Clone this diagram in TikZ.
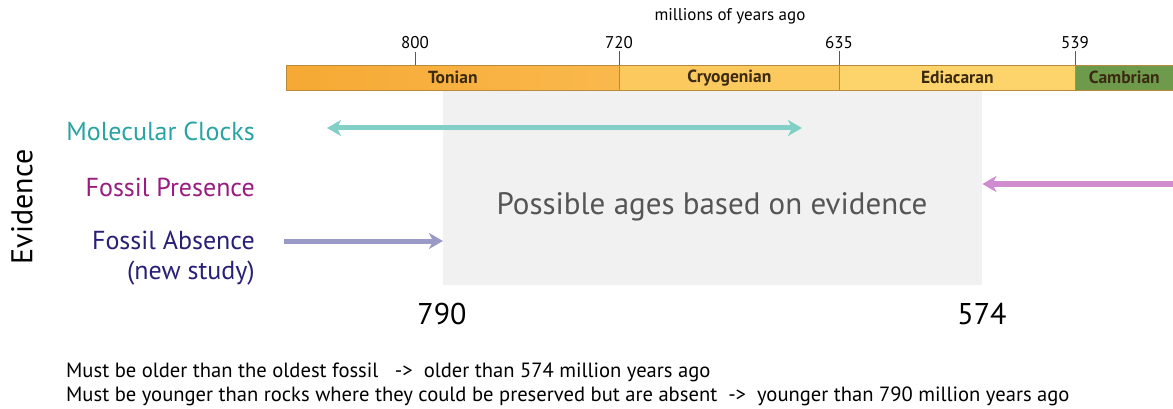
\documentclass[tikz,border=0pt]{standalone}
\usepackage{fontspec}
\setmainfont{PT Sans}
\usetikzlibrary{arrows.meta}
\definecolor{tonA}{HTML}{F6A934}
\definecolor{tonB}{HTML}{FAB84C}
\definecolor{cryo}{HTML}{FCC95E}
\definecolor{edia}{HTML}{FDD46B}
\definecolor{camb}{HTML}{6E9A4B}
\definecolor{barline}{HTML}{B98A3A}
\definecolor{bartext}{HTML}{3A2A12}
\definecolor{mcText}{HTML}{2AA3A3}
\definecolor{mcArrow}{HTML}{82CFC8}
\definecolor{fpText}{HTML}{9A1C80}
\definecolor{fpArrow}{HTML}{D08CCF}
\definecolor{faText}{HTML}{2A1F76}
\definecolor{faArrow}{HTML}{9A9AC6}
\definecolor{boxfill}{HTML}{F1F1F1}
\definecolor{boxtext}{HTML}{555555}
\tikzset{
  period/.style={draw=barline, line width=0.6pt, minimum height=25pt, inner sep=0pt, font=\bfseries\fontsize{17.5}{20}\selectfont, text=bartext},
  ticklab/.style={font=\fontsize{17}{20}\selectfont, inner sep=0pt},
  tickline/.style={draw=gray!70!black, line width=0.6pt},
  evlab/.style={font=\fontsize{26}{30}\selectfont, anchor=east, inner sep=0pt, align=right},
  evarrow/.style={line width=5pt, -{Stealth[length=14pt,width=16pt,inset=4pt]}},
  evdarrow/.style={line width=5pt, {Stealth[length=14pt,width=16pt,inset=4pt]}-{Stealth[length=14pt,width=16pt,inset=4pt]}},
  agelab/.style={font=\fontsize{30}{34}\selectfont, inner sep=0pt},
  note/.style={font=\fontsize{20.6}{24}\selectfont, anchor=west, inner sep=0pt}
}
\begin{document}
\begin{tikzpicture}[x=1pt,y=-1pt]
\useasboundingbox (0,0) rectangle (1173,409);
\fill[white] (0,0) rectangle (1173,409);
% grey box
\node[fill=boxfill, minimum width=539pt, minimum height=195pt, inner sep=0pt, anchor=north west] (box) at (443,90) {};
\node[font=\fontsize{31}{36}\selectfont, text=boxtext] (boxlab) at (712,207) {Possible ages based on evidence};
% timeline bar
\node[ticklab] (unit) at (730,16) {millions of years ago};
\node[period, minimum width=333pt, anchor=north west, left color=tonA, right color=tonB] (ton) at (286,65) {Tonian};
\node[period, minimum width=220pt, anchor=north west, fill=cryo] (cry) at (619,65) {Cryogenian};
\node[period, minimum width=236pt, anchor=north west, fill=edia] (edi) at (839,65) {Ediacaran};
\node[period, minimum width=98pt, anchor=north west, fill=camb] (cam) at (1075,65) {Cambrian};
\node[ticklab] (t800) at (415,43) {800};
\node[ticklab] (t720) at (619,43) {720};
\node[ticklab] (t635) at (839,43) {635};
\node[ticklab] (t539) at (1075,43) {539};
\draw[tickline] (415,52) -- (415,65);
\draw[tickline] (t720.south) ++(0,2) -- (cry.north west);
\draw[tickline] (t635.south) ++(0,2) -- (edi.north west);
\draw[tickline] (t539.south) ++(0,2) -- (cam.north west);
% evidence
\node[font=\fontsize{30}{34}\selectfont, rotate=90, inner sep=0pt] (ev) at (22,207) {Evidence};
\node[evlab, text=mcText] (mc) at (255,131) {Molecular Clocks};
\node[evlab, text=fpText] (fp) at (255,187) {Fossil Presence};
\node[evlab, text=faText, anchor=north east] (fa) at (255,231) {Fossil Absence\\(new study)};
\coordinate (mcL) at (327,128);
\coordinate (mcR) at (802,128);
\draw[evdarrow, draw=mcArrow] (mcL) -- (mcR);
\coordinate (fpR) at (1173,184);
\draw[evarrow, draw=fpArrow] (fpR) -- (box.east |- fpR);
\coordinate (faL) at (284,241);
\draw[evarrow, draw=faArrow] (faL) -- (box.west |- faL);
% ages
\node[agelab] (a790) at (442,314) {790};
\node[agelab] (a574) at (982,314) {574};
% notes
\node[note] (n1) at (66,372) {Must be older than the oldest fossil \ \ -> \ older than 574 million years ago};
\node[note] (n2) at (66,396) {Must be younger than rocks where they could be preserved but are absent \ -> \ younger than 790 million years ago};
\end{tikzpicture}
\end{document}
